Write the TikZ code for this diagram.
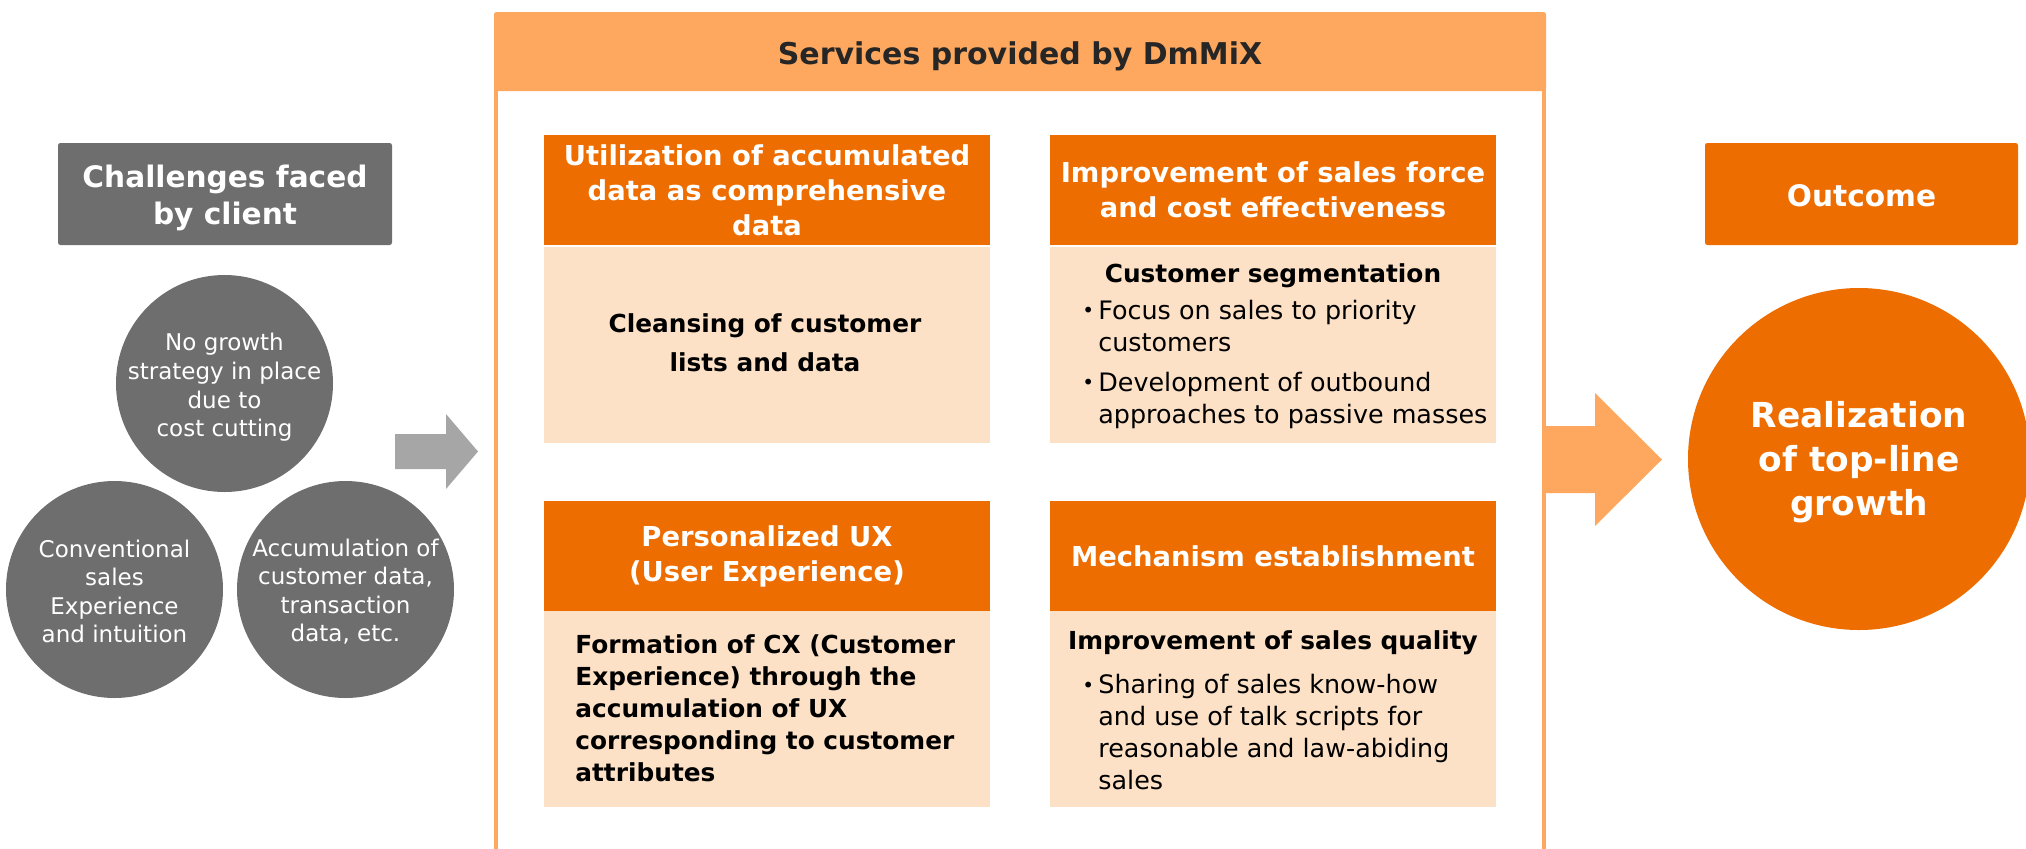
\documentclass[tikz,border=0pt]{standalone}
\usepackage{fontspec}
\setmainfont{DejaVu Sans}
\definecolor{cgray}{RGB}{110,110,110}
\definecolor{agray}{RGB}{166,166,166}
\definecolor{dorange}{RGB}{237,109,0}
\definecolor{lorange}{RGB}{253,168,94}
\definecolor{pale}{RGB}{252,225,198}
\definecolor{titlec}{RGB}{38,38,38}
\newcommand{\bul}{\makebox[8pt][l]{\raisebox{0.05em}{\fontsize{10}{10}\selectfont•}}}
\newcommand{\ind}{\hspace*{8pt}}
\begin{document}
\begin{tikzpicture}[x=0.5pt,y=-0.5pt,
  labelbox/.style={fill=#1, rounded corners=1.2pt, inner sep=0pt},
  labeltxt/.style={inner sep=0pt, text=white, align=center,
    font=\fontsize{14.8}{18.8}\selectfont\bfseries},
  grcirc/.style={circle, fill=cgray, inner sep=0pt, minimum size=108.5pt},
  circtxt/.style={inner sep=0pt, text=white, align=center, font=\fontsize{11.5}{14.3}\selectfont},
  headbox/.style={fill=dorange, inner sep=0pt, minimum width=223pt, minimum height=55pt,
    text=white, align=center, font=\fontsize{13.7}{17.5}\selectfont\bfseries},
  bodybox/.style={fill=pale, inner sep=0pt, minimum width=223pt, minimum height=98pt},
  boldtxt/.style={inner sep=0pt, text=black, font=\fontsize{12.4}{16}\selectfont\bfseries},
  bultxt/.style={inner sep=0pt, text=black, align=left, font=\fontsize{12.7}{16}\selectfont}
]
\useasboundingbox (0,0) rectangle (2026,848);
\clip (0,0) rectangle (2026,848);

% ---- left: challenges
\node[labelbox=cgray, minimum width=167pt, minimum height=51pt] (chal) at (225,194) {};
\node[labeltxt] (chalt) at ([yshift=-2pt]chal.center) {Challenges faced\\by client};
\node[grcirc] (c1) at (224.5,383.5) {};
\node[grcirc] (c2) at (114.5,589.5) {};
\node[grcirc] (c3) at (345.5,589.5) {};
\node[circtxt] (c1t) at ([yshift=-2pt]c1.center) {No growth\\strategy in place\\due to\\cost cutting};
\node[circtxt] (c2t) at ([yshift=-1pt]c2.center) {Conventional\\sales\\Experience\\and intuition};
\node[circtxt] (c3t) at ([yshift=-1pt]c3.center) {Accumulation of\\customer data,\\transaction\\data, etc.};

\fill[agray] (395,434) -- (446,434) -- (446,414) -- (478,451.5) -- (446,489) -- (446,469) -- (395,469) -- cycle;

% ---- services frame
\fill[lorange, rounded corners=1.2pt] (494,12) rectangle (1546,91);
\draw[lorange, line width=2pt] (496,60) -- (496,870);
\draw[lorange, line width=2pt] (1544,60) -- (1544,870);
\node[inner sep=0pt, text=titlec, font=\fontsize{15}{18}\selectfont\bfseries] (svc) at (1020,56) {Services provided by DmMiX};

% ---- top-left
\node[headbox] (h1) at (767,190) {Utilization of accumulated\\data as comprehensive\\data};
\node[bodybox] (b1) at (767,344.5) {};
\node[boldtxt, align=center, font=\fontsize{12.4}{19.5}\selectfont\bfseries] (t1) at (765,343) {Cleansing of customer\\lists and data};

% ---- top-right
\node[headbox] (h2) at (1273,190) {Improvement of sales force\\and cost effectiveness};
\node[bodybox] (b2) at (1273,344.5) {};
\node[boldtxt] (t2a) at (1273,276) {Customer segmentation};
\node[bultxt, anchor=west] (t2b) at (1082,364) {\bul Focus on sales to priority\\\ind customers\\[4pt]\bul Development of outbound\\\ind approaches to passive masses};

% ---- bottom-left
\node[headbox] (h3) at (767,556) {Personalized UX\\(User Experience)};
\node[bodybox] (b3) at (767,709) {};
\node[boldtxt, align=left, anchor=west] (t3) at (575,708.5) {Formation of CX (Customer\\Experience) through the\\accumulation of UX\\corresponding to customer\\attributes};

% ---- bottom-right
\node[headbox] (h4) at (1273,556) {Mechanism establishment};
\node[bodybox] (b4) at (1273,709) {};
\node[boldtxt] (t4a) at (1273,643) {Improvement of sales quality};
\node[bultxt, anchor=west] (t4b) at (1082,732.5) {\bul Sharing of sales know-how\\\ind and use of talk scripts for\\\ind reasonable and law-abiding\\\ind sales};

% ---- right: outcome
\fill[lorange] (1546,426) -- (1595,426) -- (1595,393) -- (1662,459.5) -- (1595,526) -- (1595,493) -- (1546,493) -- cycle;
\node[labelbox=dorange, minimum width=156.5pt, minimum height=51pt] (out) at (1861.5,194) {};
\node[labeltxt] (outt) at ([yshift=-1pt]out.center) {Outcome};
\node[circle, fill=dorange, inner sep=0pt, minimum size=171pt] (res) at (1859,459) {};
\node[inner sep=0pt, text=white, align=center, font=\fontsize{17.2}{22}\selectfont\bfseries]
  (rest) at ([yshift=-1.5pt]res.center) {Realization\\of top-line\\growth};
\end{tikzpicture}
\end{document}
